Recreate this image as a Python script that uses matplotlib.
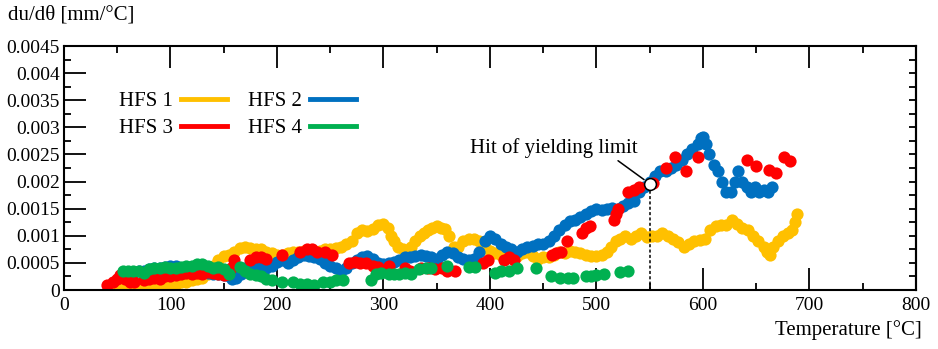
import matplotlib
matplotlib.use("Agg")
import matplotlib.pyplot as plt
from matplotlib.lines import Line2D
from matplotlib.ticker import MultipleLocator, FuncFormatter

# HFS 1 (yellow)
hfs1_t = [45, 50, 55, 60, 65, 70, 75, 80, 85, 90, 95, 100, 105, 110, 115, 120, 125, 130, 135, 140,
          145, 150, 155, 160, 165, 170, 175, 180, 185, 190, 195, 200, 205, 210, 215, 220, 225, 230,
          235, 240, 245, 250, 255, 260, 265, 270, 275, 280, 285, 290, 295, 300, 304, 307, 310, 314,
          318, 322, 326, 330, 334, 338, 342, 346, 350, 354, 358, 362, 366, 370, 375, 380, 385, 390,
          395, 400, 405, 410, 415, 420, 425, 430, 435, 440, 445, 450, 455, 460, 465, 470, 475, 480,
          485, 490, 495, 500, 505, 510, 514, 518, 522, 527, 532, 537, 542, 547, 552, 557, 562, 567,
          572, 577, 582, 587, 592, 597, 602, 607, 612, 617, 622, 627, 632, 637, 642, 647, 652, 657,
          660, 663, 666, 670, 675, 680, 684, 686, 688]
hfs1_v = [.00005, .0001, .0001, .00008, .0001, .0001, .00012, .0001, .00012, .0001, .00012, .00012,
          .00012, .00015, .00015, .00018, .0002, .00022, .0003, .00045, .00055, .00062, .00065, .0007,
          .00078, .0008, .00078, .00075, .00075, .0007, .00068, .00065, .00065, .00068, .0007, .0007,
          .00072, .0007, .0007, .00072, .00075, .00075, .00078, .0008, .00085, .0009, .00105, .0011,
          .00108, .00112, .0012, .00122, .00115, .001, .0009, .0008, .00075, .0007, .0008, .0009,
          .001, .00105, .0011, .00115, .00118, .00115, .00112, .001, .0008, .0008, .0009, .00095,
          .00095, .0009, .0008, .00072, .00068, .00065, .00065, .0006, .00062, .00068, .0007, .00062,
          .00058, .0006, .0006, .00065, .0007, .00068, .00072, .0007, .00068, .00065, .00062, .00062,
          .00065, .0007, .0008, .0009, .00095, .001, .00095, .001, .00105, .00098, .001, .001, .00105,
          .001, .00095, .00088, .0008, .00085, .0009, .00092, .00095, .0011, .00118, .0012, .0012,
          .0013, .00122, .00115, .0011, .001, .0009, .0008, .0007, .00065, .0008, .0009, .001, .00105,
          .0011, .00125, .0014]

# HFS 2 (blue)
hfs2_t = [60, 65, 70, 75, 80, 85, 90, 95, 100, 105, 110, 115, 120, 125, 130, 135, 140, 145, 150, 155,
          158, 162, 166, 170, 175, 180, 185, 190, 195, 200, 205, 210, 215, 220, 225, 230, 235, 240,
          245, 250, 255, 260, 265, 270, 275, 280, 285, 290, 295, 300, 305, 310, 315, 320, 325, 330,
          335, 340, 345, 350, 355, 360, 365, 370, 375, 380, 385, 390, 395, 400, 405, 410, 415, 420,
          425, 430, 435, 440, 445, 450, 455, 460, 465, 470, 475, 480, 485, 490, 495, 500, 505, 510,
          515, 520, 525, 530, 535, 540, 545, 550, 555, 560, 565, 570, 575, 580, 585, 590, 595, 598,
          600, 603, 606, 610, 614, 618, 622, 626, 630, 633, 637, 641, 645, 649, 653, 657, 661, 665]
hfs2_v = [.0003, .00032, .00035, .00035, .00038, .0004, .0004, .00042, .00045, .00045, .0004, .0004,
          .00038, .00035, .00035, .00032, .0003, .0003, .00028, .00025, .0002, .00022, .0003, .0004,
          .00045, .00048, .00045, .0004, .00045, .00052, .00055, .0005, .00055, .0006, .00065, .00062,
          .0006, .00058, .0005, .00045, .0004, .00035, .0004, .0005, .00055, .0006, .00062, .00058,
          .0005, .00048, .0005, .00052, .00055, .0006, .0006, .00062, .00065, .00062, .0006, .00058,
          .00065, .0007, .00068, .0006, .00058, .00055, .00058, .0007, .0009, .001, .00095, .00085,
          .0008, .00075, .0007, .00075, .0008, .00082, .00085, .00085, .0009, .001, .0011, .0012,
          .00128, .0013, .00135, .0014, .00145, .0015, .00148, .0015, .00152, .0015, .00155, .0016,
          .00165, .0018, .0019, .002, .0021, .0022, .0022, .00225, .0023, .0024, .0025, .0026, .0027,
          .0028, .00283, .0027, .0025, .0023, .0022, .002, .0018, .0018, .002, .0022, .002, .0019,
          .0018, .0019, .0018, .00185, .0018, .0019]

# HFS 3 (red)
hfs3_t = [40, 46, 50, 53, 57, 62, 66, 75, 80, 85, 90, 95, 100, 105, 110, 115, 120, 125, 130, 135,
          140, 145, 150, 154, 157, 160, 175, 180, 185, 190, 205, 222, 228, 233, 238, 245, 252, 268,
          273, 278, 284, 290, 295, 305, 320, 325, 335, 342, 348, 355, 360, 367, 393, 398, 413, 418,
          423, 458, 462, 467, 472, 486, 490, 494, 516, 518, 520, 530, 535, 540, 553, 565, 574, 584,
          595, 641, 650, 662, 669, 676, 682]
hfs3_v = [.0001, .00015, .0002, .00028, .0002, .00015, .00015, .00018, .0002, .00022, .0002, .00025,
          .00025, .00028, .0003, .00032, .0003, .00032, .0003, .00033, .00032, .0003, .00028, .0003,
          .0004, .00055, .00055, .0006, .0006, .00058, .00065, .0007, .00075, .00075, .0007, .0007,
          .00065, .0005, .00052, .0005, .0005, .00045, .00042, .00045, .0004, .00035, .0004, .0004,
          .00038, .0004, .00035, .00035, .0005, .00055, .00055, .0006, .00055, .00065, .00068, .0007,
          .0009, .00105, .00115, .00118, .0013, .0014, .0015, .0018, .00185, .0019, .00198, .00225,
          .00245, .0022, .00245, .0024, .00228, .00222, .00215, .00245, .00238]

# HFS 4 (green)
hfs4_t = [55, 60, 65, 70, 75, 80, 85, 90, 95, 100, 105, 110, 115, 120, 125, 130, 135, 140, 145, 150,
          155, 165, 170, 175, 180, 185, 190, 195, 205, 215, 222, 228, 235, 243, 250, 255, 262, 288,
          293, 298, 305, 310, 315, 320, 326, 333, 340, 345, 360, 380, 386, 405, 410, 418, 425, 443,
          457, 466, 473, 478, 490, 495, 500, 507, 522, 530]
hfs4_v = [.00035, .00035, .00035, .00035, .00032, .00038, .0004, .0004, .00042, .0004, .0004, .00042,
          .00045, .00045, .00048, .00048, .00045, .0004, .00042, .00038, .0003, .00042, .00035, .0003,
          .00028, .00025, .0002, .00018, .00015, .00015, .00012, .00012, .0001, .00015, .00015,
          .00018, .00018, .00018, .0003, .00032, .0003, .0003, .0003, .00032, .0003, .00038, .0004,
          .0004, .00045, .00042, .00042, .00032, .00035, .00035, .0004, .0004, .00025, .00022, .00022,
          .00022, .00025, .00025, .00028, .0003, .00033, .00035]

labels = ["HFS 1", "HFS 2", "HFS 3", "HFS 4"]
colors = ["#FFC000", "#0070C0", "#FF0000", "#00B050"]

yield_t = 550
yield_v = 0.00196

plt.rcParams['font.family'] = ['Liberation Serif', 'DejaVu Serif']

fig = plt.figure(figsize=(9.38, 3.49), dpi=100)
ax = fig.add_axes([0.0682, 0.169, 0.9083, 0.699])

series = [(hfs1_t, hfs1_v), (hfs2_t, hfs2_v), (hfs3_t, hfs3_v), (hfs4_t, hfs4_v)]
for (t, v), c in zip(series, colors):
    ax.plot(t, v, 'o', color=c, markersize=8.8, markeredgewidth=0)

# yielding limit marker
ax.plot([yield_t, yield_t], [0, yield_v], color='black', linestyle=(0, (2, 1.5)), lw=1.1)
ax.plot(yield_t, yield_v, 'o', markersize=8.5, markerfacecolor='white',
        markeredgecolor='black', markeredgewidth=1.1)
ax.annotate("Hit of yielding limit", xy=(yield_t, yield_v), xytext=(460, 0.00262),
            ha='center', va='center', fontsize=15,
            arrowprops=dict(arrowstyle='-', color='black', lw=1.1,
                            relpos=(0.86, 0.0), shrinkA=0, shrinkB=5))

ax.set_xlim(0, 800)
ax.set_ylim(0, 0.0045)
ax.xaxis.set_major_locator(MultipleLocator(100))
ax.xaxis.set_minor_locator(MultipleLocator(50))
ax.yaxis.set_major_locator(MultipleLocator(0.0005))
ax.yaxis.set_minor_locator(MultipleLocator(0.00025))
ax.yaxis.set_major_formatter(FuncFormatter(lambda y, p: '%g' % round(y, 6)))

ax.tick_params(axis='x', which='major', direction='in', length=16, width=1.3, top=True,
               labelsize=14, pad=5)
ax.tick_params(axis='x', which='minor', direction='in', length=5, width=1.3, top=True)
ax.tick_params(axis='y', which='major', direction='in', length=16, width=1.3, right=False,
               labelsize=14, pad=3)
ax.tick_params(axis='y', which='minor', direction='in', length=5, width=1.3, right=False)

# right side: short ticks only
sec = ax.secondary_yaxis('right')
sec.yaxis.set_major_locator(MultipleLocator(0.00025))
sec.tick_params(direction='in', length=5, width=1.3, labelright=False)
sec.spines['right'].set_linewidth(1.5)

for s in ax.spines.values():
    s.set_linewidth(1.5)

handles = [Line2D([], [], color=c, lw=3.5) for c in colors]
order = [0, 2, 1, 3]
ax.legend([handles[i] for i in order], [labels[i] for i in order], ncol=2,
          markerfirst=False, frameon=False, fontsize=15, handlelength=2.2,
          handletextpad=0.4, columnspacing=1.0, labelspacing=0.35,
          loc='upper left', bbox_to_anchor=(0.042, 0.89))

fig.text(0.008, 0.957, "du/d\u03b8 [mm/\u00b0C]", fontsize=15, ha='left', va='center')
fig.text(0.983, 0.054, "Temperature [\u00b0C]", fontsize=15, ha='right', va='center')

fig.savefig("out.png", dpi=100)
